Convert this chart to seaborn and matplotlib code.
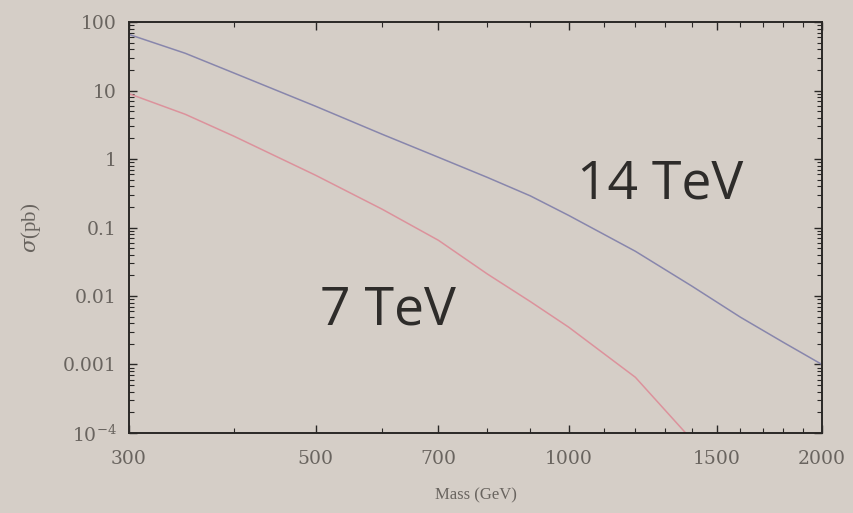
import numpy as np
import pandas as pd
import matplotlib
matplotlib.use("Agg")
import matplotlib.pyplot as plt
from matplotlib.ticker import FixedLocator, FixedFormatter
import seaborn as sns

mass = [300, 350, 400, 500, 600, 700, 800, 900, 1000, 1200, 1400, 1600, 1800, 2000]
sigma_14 = [66, 35, 18, 5.9, 2.3, 1.06, 0.54, 0.29, 0.15, 0.045, 0.014, 0.0049, 0.0021, 0.001]
mass_7 = [300, 350, 400, 500, 600, 700, 800, 900, 1000, 1200, 1400]
sigma_7 = [9, 4.5, 2.15, 0.58, 0.185, 0.065, 0.021, 0.0083, 0.0035, 0.00065, 0.00008]

x_ticks = [300, 500, 700, 1000, 1500, 2000]
x_tick_labels = ["300", "500", "700", "1000", "1500", "2000"]
y_ticks = [1e-4, 1e-3, 1e-2, 1e-1, 1, 10, 100]
y_tick_labels = [r"$10^{-4}$", "0.001", "0.01", "0.1", "1", "10", "100"]

df = pd.concat([
    pd.DataFrame({"Mass": mass, "sigma": sigma_14, "energy": "14 TeV"}),
    pd.DataFrame({"Mass": mass_7, "sigma": sigma_7, "energy": "7 TeV"}),
])

sns.set_style("ticks")
bg = "#d5cec7"
plt.rcParams["font.family"] = ["DejaVu Serif", "Liberation Serif"]
plt.rcParams["mathtext.fontset"] = "dejavuserif"

fig = plt.figure(figsize=(8.54, 5.13), dpi=100, facecolor=bg)
ax = fig.add_axes([0.151, 0.156, 0.8115, 0.801])
ax.set_facecolor(bg)

sns.lineplot(data=df, x="Mass", y="sigma", hue="energy",
             palette={"14 TeV": "#8886ac", "7 TeV": "#dc929c"},
             linewidth=1.1, ax=ax, legend=False)

ax.set_xscale("log")
ax.set_yscale("log")
ax.set_xlim(300, 2000)
ax.set_ylim(1e-4, 100)

ax.xaxis.set_major_locator(FixedLocator(x_ticks))
ax.xaxis.set_major_formatter(FixedFormatter(x_tick_labels))
minor_x = [400, 600, 800, 900, 1100, 1200, 1300, 1400, 1600, 1700, 1800, 1900]
ax.xaxis.set_minor_locator(FixedLocator(minor_x))
ax.xaxis.set_minor_formatter(FixedFormatter([""] * len(minor_x)))
ax.yaxis.set_major_locator(FixedLocator(y_ticks))
ax.yaxis.set_major_formatter(FixedFormatter(y_tick_labels))
ax.yaxis.set_minor_locator(matplotlib.ticker.LogLocator(base=10, subs=np.arange(2, 10), numticks=20))
ax.yaxis.set_minor_formatter(matplotlib.ticker.NullFormatter())

for s in ax.spines.values():
    s.set_visible(True)
    s.set_color("#2a2826")
    s.set_linewidth(1.4)

ax.tick_params(which="both", direction="in", top=True, right=True, color="#2a2826")
ax.tick_params(which="major", length=6, width=1.0, labelsize=13.5, labelcolor="#69645f")
ax.tick_params(axis="x", which="major", pad=12)
ax.tick_params(axis="y", which="major", pad=9)
ax.tick_params(which="minor", length=3.5, width=0.8)

ax.set_xlabel("Mass (GeV)", fontsize=12, color="#69645f", labelpad=14,
              family=["Liberation Serif", "DejaVu Serif"])
ax.set_ylabel(r"$\sigma$(pb)", fontsize=15, color="#69645f", labelpad=14,
              family=["Liberation Serif", "DejaVu Serif"])

ax.text(0.647, 0.605, "14 TeV", transform=ax.transAxes, fontsize=38.5,
        family=["Open Sans", "DejaVu Sans"], color="#2e2c2a", ha="left", va="center")
ax.text(0.275, 0.297, "7 TeV", transform=ax.transAxes, fontsize=38.5,
        family=["Open Sans", "DejaVu Sans"], color="#2e2c2a", ha="left", va="center")

fig.savefig("out.png", dpi=100, facecolor=bg)
